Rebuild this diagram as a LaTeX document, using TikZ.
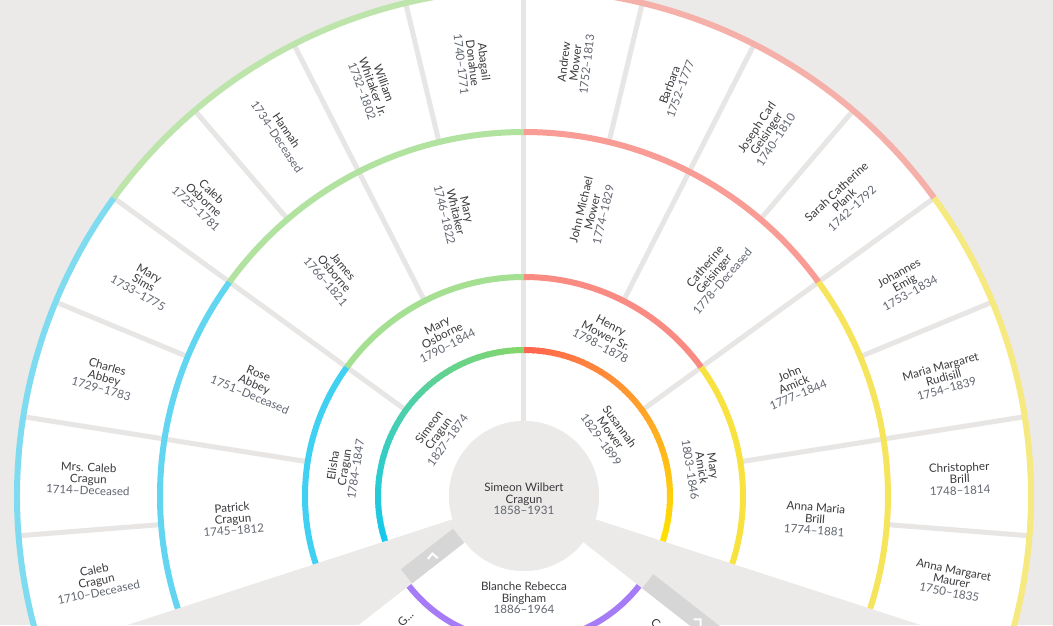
\documentclass[tikz,border=0pt]{standalone}
\usepackage{fontspec}
\setmainfont{Lato}
\usepackage{xcolor}
\definecolor{paper}{RGB}{235,234,232}
\definecolor{rule}{RGB}{231,230,228}
\definecolor{tabgray}{RGB}{214,214,214}
\definecolor{ink}{RGB}{58,58,62}
\definecolor{inkdate}{RGB}{98,102,112}
\definecolor{cyanA}{RGB}{18,201,238}
\definecolor{greenA}{RGB}{132,214,106}
\definecolor{redA}{RGB}{255,99,82}
\definecolor{yellowA}{RGB}{255,225,0}
\definecolor{blueB}{RGB}{64,208,242}
\definecolor{greenB}{RGB}{165,223,146}
\definecolor{pinkB}{RGB}{249,139,130}
\definecolor{yellowB}{RGB}{248,226,63}
\definecolor{blueC}{RGB}{98,213,241}
\definecolor{greenC}{RGB}{178,226,160}
\definecolor{pinkC}{RGB}{248,156,149}
\definecolor{yellowC}{RGB}{246,228,92}
\definecolor{blueD}{RGB}{127,219,239}
\definecolor{greenD}{RGB}{189,229,171}
\definecolor{pinkD}{RGB}{246,176,170}
\definecolor{yellowD}{RGB}{245,233,127}
\definecolor{violet}{RGB}{165,124,246}
\usepackage{tikz}
\tikzset{
  person/.style={font=\fontsize{11.6}{11.5}\selectfont,text=ink,align=center,inner sep=0pt},
  band/.style={line width=6pt},
  divider/.style={draw=rule,line width=5pt},
  navtab/.style={fill=tabgray,inner sep=0pt,minimum height=18pt},
  chevron/.style={draw=white,line width=2pt},
}
\newcommand{\yrs}[1]{{\color{inkdate}#1}}
\newcommand{\ring}[4]{\draw[band,draw=#1] (#2:#4) arc[start angle=#2,end angle=#3,radius=#4];}

\begin{document}
\begin{tikzpicture}[x=1pt,y=1pt]
\useasboundingbox (-524,-129) rectangle (529,496);
\fill[paper] (-524,-129) rectangle (529,496);
\fill[white] (-18:75) arc[start angle=-18,end angle=198,radius=75]
  -- (198:507) arc[start angle=198,end angle=-18,radius=507] -- cycle;
\fill[white] (-142:75) arc[start angle=-142,end angle=-38,radius=75]
  -- (-38:700) arc[start angle=-38,end angle=-142,radius=700] -- cycle;
\fill[paper] (0,0) circle[radius=75];

\draw[divider] (90:75) -- (90:507);
\foreach \a in {144,36} \draw[divider] (\a:146) -- (\a:507);
\foreach \a in {171,117,63,9} \draw[divider] (\a:219) -- (\a:507);
\foreach \a in {184.5,157.5,130.5,103.5,76.5,49.5,22.5,-4.5} \draw[divider] (\a:364) -- (\a:507);

\foreach \i in {0,...,53}{
  \pgfmathsetmacro\s{min(198,198.6-2*\i)}
  \pgfmathsetmacro\e{196-2*\i}
  \pgfmathsetmacro\p{100*\i/53}
  \draw[band,draw=greenA!\p!cyanA] (\s:146) arc[start angle=\s,end angle=\e,radius=146];
  \pgfmathsetmacro\s{min(90,90.6-2*\i)}
  \pgfmathsetmacro\e{88-2*\i}
  \draw[band,draw=yellowA!\p!redA] (\s:146) arc[start angle=\s,end angle=\e,radius=146];
}
\ring{blueB}{198}{144}{219}
\ring{greenB}{144}{90}{219}
\ring{pinkB}{90}{36}{219}
\ring{yellowB}{36}{-18}{219}
\ring{blueC}{198}{144}{364}
\ring{greenC}{144}{90}{364}
\ring{pinkC}{90}{36}{364}
\ring{yellowC}{36}{-18}{364}
\ring{blueD}{198}{144}{507}
\ring{greenD}{144}{90}{507}
\ring{pinkD}{90}{36}{507}
\ring{yellowD}{36}{-18}{507}
\ring{violet}{-142}{-38}{146}

\node[navtab,rotate=38,minimum width=66pt] (prev) at (213.3:109.4) {};
\draw[chevron,shift={(prev.center)},rotate=95] (-2.5,5) -- (2.5,0) -- (-2.5,-5);
\node[navtab,rotate=-38,minimum width=130pt] (next) at (-35.6:215.2) {};
\draw[chevron,shift={(next.center)},rotate=45] (-2.5,5) -- (2.5,0) -- (-2.5,-5);

\node[person] (root) at (0,-3) {Simeon Wilbert\\Cragun\\\yrs{1858–1931}};
\node[person] (blanche) at (0,-102) {Blanche Rebecca\\Bingham\\\yrs{1886–1964}};
\node[person,rotate=46,anchor=east] (kidleft) at (226:162) {G...};
\node[person,rotate=-44,anchor=west] (kidright) at (-44:179) {C};

\node[person,rotate=54] (simeon) at (144:106) {Simeon\\Cragun\\\yrs{1827–1874}};
\node[person,rotate=-54] (susannah) at (36:107) {Susannah\\Mower\\\yrs{1829–1899}};

\node[person,rotate=81] (elisha) at (171:182) {Elisha\\Cragun\\\yrs{1784–1847}};
\node[person,rotate=27] (maryosborne) at (117:180) {Mary\\Osborne\\\yrs{1790–1844}};
\node[person,rotate=-27] (henry) at (63:180) {Henry\\Mower Sr.\\\yrs{1798–1878}};
\node[person,rotate=-81] (maryamick) at (9:180) {Mary\\Amick\\\yrs{1803–1846}};

\node[person,rotate=4.5] (patrick) at (184.5:292) {Patrick\\Cragun\\\yrs{1745–1812}};
\node[person,rotate=-22.5] (rose) at (157.5:292) {Rose\\Abbey\\\yrs{1751–Deceased}};
\node[person,rotate=-49.5] (james) at (130.5:292) {James\\Osborne\\\yrs{1766–1821}};
\node[person,rotate=-76.5] (marywhitaker) at (103.5:292) {Mary\\Whitaker\\\yrs{1746–1822}};
\node[person,rotate=76.5] (johnmichael) at (76.5:292) {John Michael\\Mower\\\yrs{1774–1829}};
\node[person,rotate=49.5] (catherine) at (49.5:292) {Catherine\\Geisinger\\\yrs{1778–Deceased}};
\node[person,rotate=22.5] (johnamick) at (22.5:292) {John\\Amick\\\yrs{1777–1844}};
\node[person,rotate=-4.5] (annamaria) at (-4.5:292) {Anna Maria\\Brill\\\yrs{1774–1881}};

\node[person,rotate=11.25] (caleb) at (191.25:436) {Caleb\\Cragun\\\yrs{1710–Deceased}};
\node[person,rotate=-2.25] (mrscaleb) at (177.75:436) {Mrs. Caleb\\Cragun\\\yrs{1714–Deceased}};
\node[person,rotate=-15.75] (charles) at (164.25:436) {Charles\\Abbey\\\yrs{1729–1783}};
\node[person,rotate=-29.25] (marysims) at (150.75:436) {Mary\\Sims\\\yrs{1733–1775}};
\node[person,rotate=-42.75] (calebosborne) at (137.25:436) {Caleb\\Osborne\\\yrs{1725–1781}};
\node[person,rotate=-56.25] (hannah) at (123.75:436) {Hannah\\\yrs{1734–Deceased}};
\node[person,rotate=-69.75] (william) at (110.25:436) {William\\Whitaker Jr.\\\yrs{1732–1802}};
\node[person,rotate=-83.25] (abagail) at (96.75:436) {Abagail\\Donahue\\\yrs{1740–1771}};
\node[person,rotate=83.25] (andrew) at (83.25:436) {Andrew\\Mower\\\yrs{1752–1813}};
\node[person,rotate=69.75] (barbara) at (69.75:436) {Barbara\\\yrs{1752–1777}};
\node[person,rotate=56.25] (joseph) at (56.25:436) {Joseph Carl\\Geisinger\\\yrs{1740–1810}};
\node[person,rotate=42.75] (sarah) at (42.75:436) {Sarah Catherine\\Plank\\\yrs{1742–1792}};
\node[person,rotate=29.25] (johannes) at (29.25:436) {Johannes\\Emig\\\yrs{1753–1834}};
\node[person,rotate=15.75] (mariamargaret) at (15.75:436) {Maria Margaret\\Rudisill\\\yrs{1754–1839}};
\node[person,rotate=2.25] (christopher) at (2.25:436) {Christopher\\Brill\\\yrs{1748–1814}};
\node[person,rotate=-11.25] (annamargaret) at (-11.25:436) {Anna Margaret\\Maurer\\\yrs{1750–1835}};
\end{tikzpicture}
\end{document}
